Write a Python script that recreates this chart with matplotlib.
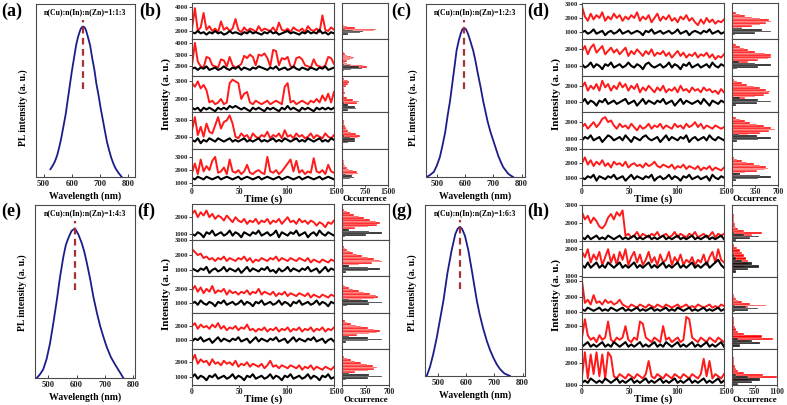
import numpy as np
import matplotlib
matplotlib.use('Agg')
import matplotlib.pyplot as plt

W, H = 787, 405
plt.rcParams['font.family'] = ['Liberation Serif', 'DejaVu Serif']
plt.rcParams['font.weight'] = 'bold'
plt.rcParams['axes.linewidth'] = 0.8

# ---------------- PL spectra (wavelength nm, normalized intensity) ----------------
pl_a_wl = [524, 532, 540, 548, 555, 562, 570, 578, 585, 592, 600, 608, 615, 622, 630, 635, 640, 645, 650, 657,
           665, 672, 680, 687, 695, 702, 710, 718, 725, 733, 740, 748, 755, 765, 777]
pl_a_int = [0.045, 0.065, 0.09, 0.125, 0.17, 0.22, 0.29, 0.36, 0.44, 0.52, 0.61, 0.69, 0.76, 0.81, 0.85, 0.865,
            0.87, 0.865, 0.85, 0.81, 0.76, 0.69, 0.62, 0.54, 0.47, 0.40, 0.33, 0.26, 0.20, 0.15, 0.11, 0.075,
            0.05, 0.025, 0.0]
pl_a_peak = 639
pl_c_wl = [464, 475, 490, 500, 511, 520, 530, 538, 547, 555, 563, 570, 578, 585, 591, 597, 603, 610, 618, 629,
           637, 645, 655, 664, 672, 680, 690, 700, 710, 718, 727, 735, 745, 752, 760, 770]
pl_c_int = [0.0, 0.01, 0.03, 0.065, 0.115, 0.18, 0.26, 0.35, 0.44, 0.54, 0.64, 0.73, 0.79, 0.83, 0.855, 0.86,
            0.855, 0.83, 0.79, 0.73, 0.67, 0.6, 0.52, 0.44, 0.38, 0.32, 0.26, 0.21, 0.16, 0.12, 0.085, 0.057,
            0.035, 0.02, 0.01, 0.0]
pl_c_peak = 597
pl_e_wl = [459, 470, 482, 494, 506, 518, 530, 541, 553, 562, 571, 582, 594, 606, 618, 627, 636, 648, 659, 671,
           683, 695, 706, 721, 736, 750, 765]
pl_e_int = [0.0, 0.02, 0.05, 0.11, 0.2, 0.32, 0.45, 0.58, 0.7, 0.77, 0.81, 0.85, 0.865, 0.83, 0.78, 0.73,
            0.665, 0.57, 0.47, 0.38, 0.30, 0.235, 0.18, 0.12, 0.077, 0.04, 0.0]
pl_e_peak = 594
pl_g_wl = [461, 472, 484, 496, 508, 520, 534, 549, 562, 570, 578, 586, 596, 608, 620, 630, 638, 648, 660, 673,
           685, 697, 708, 720, 735, 755]
pl_g_int = [0.0, 0.05, 0.127, 0.22, 0.33, 0.44, 0.6, 0.735, 0.83, 0.86, 0.873, 0.86, 0.82, 0.735, 0.62, 0.52,
            0.44, 0.36, 0.28, 0.206, 0.15, 0.105, 0.069, 0.04, 0.015, 0.0]
pl_g_peak = 578
pl_ratios = ['n(Cu):n(In):n(Zn)=1:1:3', 'n(Cu):n(In):n(Zn)=1:2:3',
             'n(Cu):n(In):n(Zn)=1:4:3', 'n(Cu):n(In):n(Zn)=1:6:3']
pl_xticks = [500, 600, 700, 800]

# ---------------- Blinking traces (intensity in units of 100 counts) ----------------
time_ticks = [0, 50, 100, 150]

# (b)
b_red = [
 [22,39,20,23,35,21,24,20,22,19,28,21,23,20,22,30,21,19,23,20,22,21,19,24,20,22,21,20,23,19,27,21,20,22,19,23,21,20,22,19,24,21,20,22,19,33,21,20,23,21],
 [21,40,24,20,19,28,27,21,20,19,26,25,20,28,21,19,20,22,29,27,30,28,21,30,29,31,27,20,34,33,21,27,26,28,20,19,27,28,26,21,20,19,26,21,20,19,21,28,27,22],
 [29,27,30,26,28,25,18,19,17,18,20,17,18,29,31,30,29,20,23,24,18,17,19,18,17,18,19,17,18,19,18,17,27,29,18,19,17,18,19,18,17,19,18,20,18,22,19,23,18,24],
 [24,32,21,26,20,28,23,22,27,32,25,29,30,33,28,20,19,22,20,21,18,22,20,19,21,20,23,19,21,20,22,19,24,20,21,19,22,20,21,19,20,22,19,21,20,19,22,20,19,21],
 [18,25,17,28,19,23,20,27,30,18,19,22,17,28,19,18,20,17,19,24,18,17,19,20,18,17,30,19,18,20,17,19,22,25,28,19,27,18,20,17,19,18,29,19,18,20,17,24,19,18],
]
b_black = [
 [19,18,20,18,19,17,19,18,20,18,19,17,18,20,18,19,18,17,19,18,20,18,19,18,17,19,18,20,18,19,17,18,19,20,18,19,18,17,19,18,20,18,19,18,21,18,19,17,19,18],
 [18,19,17,19,18,20,17,18,19,17,18,20,18,17,19,18,20,17,19,18,17,19,18,20,19,18,17,19,18,20,17,18,19,17,18,20,18,17,19,18,17,19,18,17,19,18,20,17,18,19],
 [15,14,15,13,15,14,15,14,13,15,14,15,14,16,15,16,15,14,15,14,13,15,14,15,14,13,15,14,15,14,13,15,14,16,14,15,14,13,15,14,15,14,13,15,14,15,14,15,14,15],
 [18,17,19,16,18,17,19,18,17,19,18,17,18,19,17,18,17,18,19,17,18,17,18,19,17,18,17,18,19,17,18,17,19,18,17,18,19,17,18,17,19,18,17,18,19,17,18,17,19,18],
 [14,13,15,14,13,15,14,13,14,15,13,14,15,14,13,14,15,13,14,15,14,13,14,15,13,14,15,14,13,14,15,13,14,15,14,13,14,15,13,14,15,14,13,14,15,13,14,15,14,13],
]
b_ylim = [(13, 43.3), (12, 42.9), (12.45, 33.2), (12.7, 35), (8.75, 36.25)]
b_yticks = [[20, 30, 40], [20, 30, 40], [20, 30], [20, 30], [10, 20, 30]]
b_hist_red = [
 (17, [20,150,550,1050,1120,430,150,60,30,20,15,10,10,10,5,5,5]),
 (17, [50,400,800,700,300,150,100,150,250,370,400,300,150,100,50,30,20,20,10]),
 (15, [30,200,500,540,350,150,80,80,90,60,50,70,120,200,230,180,60,20]),
 (16, [30,150,350,520,590,450,300,200,150,120,100,80,60,50,40,30,20,10]),
 (14, [30,150,350,530,500,350,220,150,110,90,80,70,60,50,40,30,20]),
]
b_hist_black = [
 (16, [30,200,600,700,350,100,30]),
 (16, [50,300,640,550,250,80]),
 (12, [20,200,450,420,200,50]),
 (15, [30,200,430,430,250,80]),
 (12, [30,250,380,320,120,30]),
]
b_occ_ticks = [0, 750, 1500]

# (d)
d_red = [
 [28,21,18,23,19,22,20,24,18,21,19,23,20,22,18,21,19,22,20,24,18,21,19,22,17,20,23,18,21,19,22,18,20,17,21,19,22,18,20,17,15,19,16,20,17,19,16,18,17,19],
 [19,22,17,21,23,18,20,22,17,19,21,18,20,17,19,21,16,19,17,20,18,16,19,17,20,16,18,17,19,16,18,15,17,19,16,18,15,17,16,18,15,17,16,18,15,17,14,16,15,17],
 [19,22,17,20,18,21,17,23,19,21,17,20,18,22,19,21,17,20,18,21,16,19,17,20,18,16,19,17,20,16,18,17,19,16,20,17,18,16,19,17,18,16,19,17,18,16,17,15,18,16],
 [17,19,16,18,20,17,19,22,23,20,21,18,16,19,17,18,16,19,17,15,18,16,17,19,16,18,17,19,16,18,17,16,19,17,18,16,19,17,18,20,17,19,16,18,17,16,18,17,16,17],
 [20,24,19,22,18,21,19,22,18,20,17,21,19,20,18,21,17,19,20,18,19,17,20,18,19,21,18,17,19,18,17,19,16,18,17,19,16,18,17,16,18,15,17,16,18,15,17,16,15,17],
]
d_black = [
 [10,11,9,10,12,9,10,11,8,10,11,9,10,12,9,10,11,9,10,11,10,8,11,10,12,9,10,11,9,10,11,9,10,12,9,10,11,8,10,11,10,9,11,10,12,9,10,11,9,10],
 [11,9,10,12,9,11,10,8,11,10,12,9,10,11,9,10,12,10,9,11,10,8,11,12,10,9,10,11,9,10,12,9,11,10,8,11,10,12,9,10,11,9,10,11,9,12,10,9,11,10],
 [10,12,9,11,10,8,11,10,12,9,10,11,9,10,11,12,9,10,11,8,10,12,9,11,10,9,11,10,12,9,10,11,8,10,12,9,11,10,9,10,11,9,12,10,8,11,10,9,11,10],
 [9,11,10,12,9,10,11,8,10,12,11,9,10,11,9,12,10,8,11,10,9,11,12,10,9,10,11,8,10,12,9,11,10,9,11,10,12,8,10,11,9,10,11,9,12,10,9,11,10,9],
 [10,9,11,10,12,8,11,10,9,11,10,12,9,10,11,8,10,12,9,11,10,9,11,10,12,8,10,11,9,10,12,9,11,10,8,11,10,12,9,10,11,9,10,11,8,12,10,9,11,10],
]
d_ylim = [(5, 30.5), (4, 26), (4, 26), (4, 26), (5, 30)]
d_yticks = [[10, 20, 30], [10, 20], [10, 20], [10, 20], [10, 20, 30]]
d_hist_red = [
 (12, [50,150,300,430,520,600,560,420,300,200,120,60,20]),
 (11, [100,250,400,550,600,600,500,350,250,180,120,60,30]),
 (11, [60,200,350,480,560,580,520,430,330,230,150,80,30]),
 (11, [80,250,420,560,650,600,480,380,280,200,120,60,20]),
 (12, [60,200,380,500,550,520,430,330,230,150,80,30]),
]
d_hist_black = [
 (8, [50,350,600,450,150]),
 (8, [80,400,600,350,100]),
 (8, [60,380,600,400,120]),
 (8, [70,390,600,380,110]),
 (8, [60,400,600,420,120]),
]
d_occ_ticks = [0, 350, 700]

# (f)
f_red = [
 [22,24,20,23,21,24,20,22,19,21,20,18,21,19,17,20,18,17,19,16,18,17,19,16,18,17,19,16,18,17,19,16,18,20,17,18,16,19,17,18,16,18,17,15,17,16,14,17,16,18],
 [24,22,20,21,18,19,17,18,16,18,17,19,16,18,17,16,18,17,19,16,18,15,17,16,18,17,16,18,17,19,16,18,17,16,18,17,16,18,17,16,18,15,17,16,15,17,16,15,17,16],
 [19,22,18,21,17,20,18,22,17,19,18,20,16,19,17,18,16,18,17,19,16,18,17,20,16,18,17,16,18,15,17,16,18,15,17,16,15,17,16,15,17,14,16,15,14,16,15,14,16,15],
 [20,22,18,21,19,20,18,21,19,22,18,20,17,19,18,20,17,19,18,21,17,18,16,18,17,19,16,18,17,19,16,18,17,19,16,18,17,19,16,18,17,19,16,18,17,19,16,18,17,19],
 [21,25,19,22,20,21,18,22,19,20,18,21,19,20,18,21,17,19,18,20,17,19,18,17,19,16,18,21,17,18,16,18,17,16,18,17,16,18,15,17,16,18,15,17,16,15,17,16,15,17],
]
f_black = [
 [10,9,11,10,8,11,10,12,9,10,11,9,10,12,9,11,10,8,11,10,9,11,10,12,9,10,11,9,10,12,8,11,10,9,11,10,12,9,10,11,8,10,11,9,12,10,9,11,10,9],
 [11,10,9,11,10,12,8,10,11,9,10,12,9,11,10,9,11,8,10,12,9,11,10,9,11,10,12,9,10,8,11,9,10,12,9,11,10,9,11,10,12,9,10,11,8,10,12,9,11,10],
 [10,11,9,12,10,9,11,10,8,11,10,12,9,10,11,9,10,12,9,11,10,8,11,10,12,9,10,11,9,10,12,9,11,10,8,11,10,12,9,10,11,9,10,12,9,11,10,8,11,10],
 [9,11,10,12,9,10,11,8,10,12,9,11,10,9,11,10,12,9,10,11,8,10,12,9,11,10,9,11,10,12,9,10,11,8,10,12,9,11,10,9,11,10,12,9,10,11,8,10,11,9],
 [10,12,9,11,10,8,11,10,12,9,10,11,9,10,12,9,11,10,8,11,10,12,9,10,11,9,10,12,9,11,10,8,11,10,12,9,10,11,9,10,12,9,11,10,8,11,10,12,9,10],
]
f_ylim = [(6.25, 27.9), (5.65, 30), (3.6, 28.6), (3.8, 29.5), (4.8, 29)]
f_yticks = [[10, 20], [10, 20, 30], [10, 20], [10, 20], [10, 20]]
f_hist_red = [
 (12, [60,200,380,520,565,500,420,330,250,180,120,70,30,10]),
 (12, [80,250,450,590,560,480,380,300,230,170,120,80,50,30]),
 (11, [100,300,480,540,500,420,330,250,170,110,60,30]),
 (12, [60,220,400,520,565,480,380,290,210,140,80,40]),
 (12, [60,200,380,480,515,460,370,280,200,130,70,30]),
]
f_hist_black = [
 (8, [50,350,590,400,100]),
 (8, [60,380,560,380,110]),
 (8, [70,400,600,380,100]),
 (8, [60,380,590,390,110]),
 (8, [60,390,600,400,110]),
]
f_occ_ticks = [0, 350, 700]

# (h)
h_red = [
 [26,22,24,20,23,21,18,17,19,23,25,22,26,24,27,13,14,12,13,15,12,14,13,12,14,13,15,12,13,14,12,13,15,12,14,13,12,14,13,15,12,13,14,12,13,15,12,14,13,14],
 [19,17,20,15,18,16,19,14,17,20,15,18,14,19,16,20,14,17,19,15,18,14,16,19,15,17,14,18,15,16,19,14,17,15,18,14,16,15,17,14,16,15,18,14,17,19,15,20,16,15],
 [30,16,18,15,21,16,17,15,18,16,17,15,16,18,15,14,13,15,14,13,15,14,13,15,14,13,15,14,13,15,14,13,14,15,13,14,15,13,14,13,15,14,13,14,15,13,14,13,15,14],
 [15,23,16,14,15,13,16,14,15,22,14,13,15,14,15,20,14,13,15,14,22,21,15,14,13,15,14,13,20,14,15,13,14,15,13,14,24,23,15,14,13,15,14,13,15,14,13,15,14,13],
 [14,25,13,24,15,25,14,24,13,25,23,14,13,15,14,13,15,14,13,15,14,13,15,21,14,13,15,14,13,15,14,13,15,14,13,15,14,13,15,14,13,15,22,14,21,13,15,14,13,15],
]
h_black = [
 [12,11,13,11,12,13,11,12,11,13,12,11,12,13,11,12,11,12,13,11,12,11,12,13,11,12,11,12,13,11,12,11,12,13,11,12,11,12,13,11,12,11,12,13,11,12,11,12,13,11],
 [14,13,15,13,14,15,13,14,13,15,14,13,14,15,13,14,13,14,15,13,14,13,14,15,13,14,13,14,15,13,14,13,14,15,13,14,13,14,15,13,14,13,14,15,13,14,15,16,14,13],
 [12,11,13,12,11,12,13,11,12,11,13,12,11,12,13,11,12,11,12,13,11,12,11,12,13,11,12,11,12,13,11,12,11,13,12,11,12,13,11,12,11,12,13,11,12,11,12,13,11,12],
 [11,12,13,11,12,11,12,13,11,12,11,13,12,11,12,13,11,12,11,12,13,11,12,11,12,13,11,12,11,13,12,11,12,13,11,12,11,12,13,11,12,11,12,13,11,12,11,12,13,11],
 [11,12,11,13,12,11,12,11,13,12,11,12,13,11,12,11,12,13,11,12,11,12,13,11,12,11,12,13,11,12,11,12,13,11,12,11,12,13,11,12,11,12,13,11,12,11,12,13,11,12],
]
h_ylim = [(10, 30), (9.5, 23.1), (9.6, 32.5), (10, 25.7), (10, 26.5)]
h_yticks = [[10, 20, 30], [10, 20], [10, 20, 30], [10, 20], [10, 20]]
h_hist_red = [
 (11, [50,200,500,740,300,150,100,80,70,60,50,50,40,40,30,20,10]),
 (11, [30,150,300,400,380,350,300,250,200,120,60,20]),
 (12, [100,400,840,450,250,150,100,80,50,40,30,20]),
 (12, [100,400,1000,740,300,150,100,80,60,50,40,40,30,20]),
 (11, [100,400,1100,760,300,150,100,80,60,50,50,40,30,30,20]),
]
h_hist_black = [
 (10, [100,450,660,300,50]),
 (11, [100,400,660,500,250,100,40]),
 (10, [80,400,640,350,80]),
 (11, [200,680,500,150]),
 (10, [150,500,680,400,100]),
]
h_occ_ticks = [0, 550, 1100]

# ---------------- drawing ----------------
fig = plt.figure(figsize=(W / 100, H / 100), dpi=100)
SPINE = '#4a4a4a'
RED = '#ff0000'
BLUE = '#1c1c8a'
DASH = '#a83232'


def ax_px(l, t, r, b):
    return fig.add_axes([l / W, 1 - b / H, (r - l) / W, (b - t) / H])


def style(ax):
    for s in ax.spines.values():
        s.set_color(SPINE)
        s.set_linewidth(0.8)


def pl_panel(box, wl, inten, peak, xlim, ratio, label_y):
    ax = ax_px(*box)
    style(ax)
    ax.plot(wl, inten, color=BLUE, lw=1.3)
    ax.plot([peak, peak], [0.51, 0.91], color=DASH, lw=1.6, ls=(0, (3, 2)))
    ax.set_xlim(*xlim)
    ax.set_ylim(0, 1)
    ax.set_yticks([])
    ax.set_xticks(pl_xticks)
    ax.tick_params(axis='x', direction='in', length=2, width=0.6, labelsize=6.2, pad=2,
                   colors='#222222')
    ax.text(0.5, 0.975, ratio, transform=ax.transAxes, ha='center', va='top',
            fontsize=5.6, fontweight='bold')
    l, t, r, b = box
    fig.text((l + r) / 2 / W, 1 - (b + 19) / H, 'Wavelength (nm)', ha='center', va='center',
             fontsize=7, fontweight='bold')
    fig.text((l - 8) / W, 1 - label_y / H, 'PL intensity (a. u.)', rotation=90,
             ha='right', va='center', fontsize=7, fontweight='bold')
    return ax


def trace_block(left, top, right, bottom, hl, hr, reds, blacks, ylims, yticks,
                hred, hblack, occ_ticks, label_y, va):
    n = len(reds)
    hgt = (bottom - top) / n
    for i in range(n):
        t0 = top + i * hgt
        t1 = t0 + hgt
        ax = ax_px(left, t0, right, t1)
        style(ax)
        r = np.array(reds[i]) * 100
        k = np.array(blacks[i]) * 100
        ax.plot(np.linspace(0, 150, len(r)), r, color=RED, lw=1.4, alpha=0.9)
        ax.plot(np.linspace(0, 150, len(k)), k, color='black', lw=1.5)
        ax.set_xlim(0, 150)
        ax.set_ylim(ylims[i][0] * 100, ylims[i][1] * 100)
        ax.set_yticks([v * 100 for v in yticks[i]])
        ax.tick_params(axis='y', direction='out', length=2, width=0.6, labelsize=4.8,
                       pad=1, colors='#222222')
        hx = ax_px(hl, t0, hr, t1)
        style(hx)
        s, c = hred[i]
        ys = [(s + j + 0.5) * 100 for j in range(len(c))]
        hx.barh(ys, c, height=100, color=RED, edgecolor='white', linewidth=0.3)
        s, c = hblack[i]
        ys = [(s + j + 0.5) * 100 for j in range(len(c))]
        hx.barh(ys, c, height=100, color='#111111', alpha=0.92, edgecolor='white',
                linewidth=0.2)
        hx.set_ylim(ax.get_ylim())
        hx.set_xlim(occ_ticks[0], occ_ticks[-1])
        hx.set_yticks([])
        if i < n - 1:
            ax.set_xticks([])
            hx.set_xticks([])
        else:
            ax.set_xticks(time_ticks)
            ax.tick_params(axis='x', direction='out', length=1.5, width=0.6, labelsize=5.5,
                           pad=0.5, colors='#222222')
            hx.set_xticks(occ_ticks)
            hx.tick_params(axis='x', direction='out', length=1.5, width=0.6, labelsize=5.5,
                           pad=0.5, colors='#222222')
    fig.text((left + right) / 2 / W, 1 - label_y / H, 'Time (s)', ha='center', va=va,
             fontsize=7.8, fontweight='bold')
    fig.text((hl + hr) / 2 / W, 1 - label_y / H, 'Occurrence', ha='center',
             va=va, fontsize=6.5, fontweight='bold')
    fig.text((left - 21) / W, 1 - ((top + bottom) / 2) / H, 'Intensity (a. u.)',
             rotation=90, ha='right', va='center', fontsize=8, fontweight='bold')


pl_panel((36, 4, 135, 177), pl_a_wl, pl_a_int, pl_a_peak, (473, 824), pl_ratios[0], 108)
pl_panel((426, 4, 525, 177), pl_c_wl, pl_c_int, pl_c_peak, (462, 812), pl_ratios[1], 108)
pl_panel((35, 205, 135, 378), pl_e_wl, pl_e_int, pl_e_peak, (453, 806), pl_ratios[2], 293)
pl_panel((425, 205, 525, 376), pl_g_wl, pl_g_int, pl_g_peak, (455, 808), pl_ratios[3], 293)

trace_block(192, 3, 334, 185, 342, 388, b_red, b_black, b_ylim, b_yticks,
            b_hist_red, b_hist_black, b_occ_ticks, 194.5, 'top')
trace_block(582, 3, 724, 185, 732, 778, d_red, d_black, d_ylim, d_yticks,
            d_hist_red, d_hist_black, d_occ_ticks, 194.5, 'top')
trace_block(192, 204, 334, 385, 342, 389, f_red, f_black, f_ylim, f_yticks,
            f_hist_red, f_hist_black, f_occ_ticks, 404.5, 'bottom')
trace_block(582, 205, 724, 385, 732, 777, h_red, h_black, h_ylim, h_yticks,
            h_hist_red, h_hist_black, h_occ_ticks, 404.5, 'bottom')

for lab, x, y in [('(a)', 1, 3), ('(b)', 139, 3), ('(c)', 391, 3), ('(d)', 527, 3),
                  ('(e)', 1, 203), ('(f)', 137, 203), ('(g)', 391, 203), ('(h)', 527, 203)]:
    fig.text(x / W, 1 - y / H, lab, ha='left', va='top', fontsize=13, fontweight='bold')

fig.savefig('out.png', dpi=100)
